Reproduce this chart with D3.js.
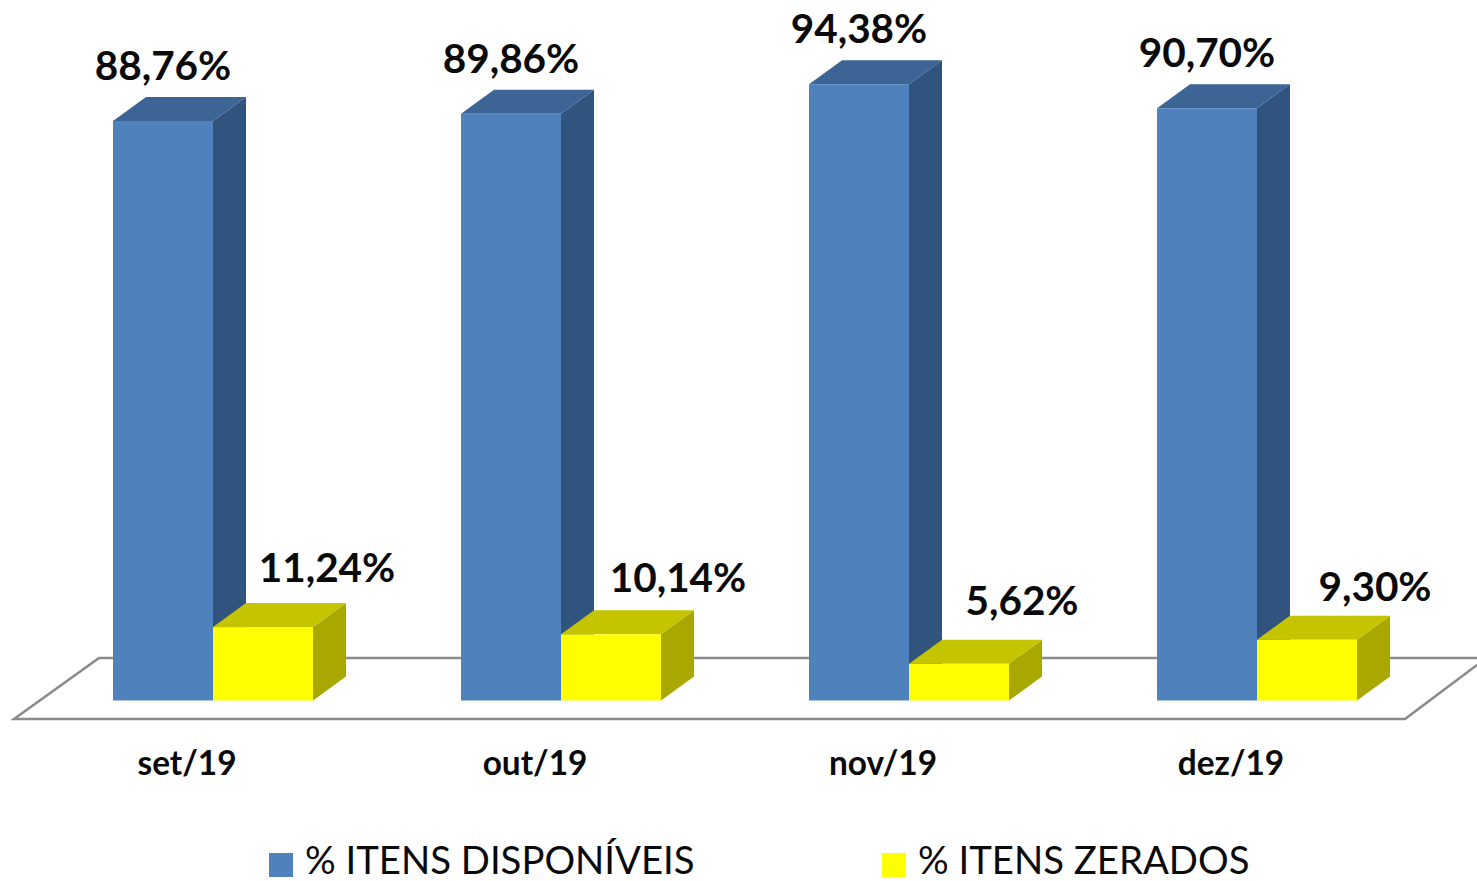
<!DOCTYPE html>
<html>
<head>
<meta charset="utf-8">
<script src="https://cdn.jsdelivr.net/npm/d3@7"></script>
<style>
  html, body { margin: 0; background: #fff; overflow: hidden; }
  text { font-family: Lato, sans-serif; fill: #0a0a0a; }
</style>
</head>
<body>
<div id="svgcontainer"></div>
<script>
var categories = ["set/19", "out/19", "nov/19", "dez/19"];
var seriesNames = ["% ITENS DISPONÍVEIS", "% ITENS ZERADOS"];
var disponiveis = [88.76, 89.86, 94.38, 90.70];
var zerados = [11.24, 10.14, 5.62, 9.30];

var width = 1477, height = 881;
var depthX = 33, depthY = 24;
var front = ["#4f81bd", "#ffff00"];
var topFace = ["#3c6494", "#c4c400"];
var sideFace = ["#30547e", "#a8a800"];

// hand placed label shifts for the yellow bars
var nudgeX = [-1, 2, -2, 3];
var nudgeY = [0, 3, -4, 6];

var svg = d3.select("#svgcontainer")
  .append("svg")
  .attr("width", width)
  .attr("height", height);

var x = d3.scaleBand().domain(categories).range([13, 1405]);
var xInner = d3.scaleBand().domain(seriesNames).range([100, 300]);
var y = d3.scaleLinear().domain([0, 100]).range([700.5, 47.5]);

// floor of the 3d plot
var floorFront = 719, floorBack = 658;
svg.append("path")
  .attr("d", "M1490," + floorBack + "L99," + floorBack + "L14," + floorFront + "L1405," + floorFront + "L1477," + (floorFront - 54))
  .attr("fill", "none")
  .attr("stroke", "#8a8a8a")
  .attr("stroke-width", 2.5);

var rows = [];
categories.forEach(function(c, i){
  rows.push({cat: c, i: i, s: 0, value: disponiveis[i]});
  rows.push({cat: c, i: i, s: 1, value: zerados[i]});
});

var bars = svg.selectAll("g.bar")
  .data(rows)
  .enter().append("g")
  .attr("class", "bar")
  .attr("transform", function(d){ return "translate(" + (x(d.cat) + xInner(seriesNames[d.s])) + ",0)"; });

var w = xInner.bandwidth();

// side
bars.append("path")
  .attr("fill", function(d){ return sideFace[d.s]; })
  .attr("d", function(d){
    var t = y(d.value), b = y(0);
    return "M" + w + "," + t + "L" + (w + depthX) + "," + (t - depthY) + "L" + (w + depthX) + "," + (b - depthY) + "L" + w + "," + b + "Z";
  });
// top
bars.append("path")
  .attr("fill", function(d){ return topFace[d.s]; })
  .attr("d", function(d){
    var t = y(d.value);
    return "M0," + t + "L" + depthX + "," + (t - depthY) + "L" + (w + depthX) + "," + (t - depthY) + "L" + w + "," + t + "Z";
  });
// front
bars.append("rect")
  .attr("width", w)
  .attr("y", function(d){ return y(d.value); })
  .attr("height", function(d){ return y(0) - y(d.value); })
  .attr("fill", function(d){ return front[d.s]; });

// value labels
svg.selectAll("text.value")
  .data(rows)
  .enter().append("text")
  .attr("class", "value")
  .attr("text-anchor", "middle")
  .attr("font-size", 40.5)
  .attr("font-weight", 700)
  .attr("x", function(d){ return x(d.cat) + xInner(seriesNames[d.s]) + w / 2 + (d.s ? 65 + nudgeX[d.i] : 0); })
  .attr("y", function(d){ return y(d.value) - (d.s ? 45 - nudgeY[d.i] : 41); })
  .text(function(d){ return d.value.toFixed(2).replace(".", ",") + "%"; });

// category axis
var axis = d3.axisBottom(x).tickSize(0).tickPadding(0);
var axisG = svg.append("g")
  .attr("transform", "translate(0,751)")
  .call(axis);
axisG.select(".domain").remove();
axisG.selectAll("text")
  .attr("font-size", 33.4)
  .attr("font-weight", 700)
  .style("font-family", "Lato, sans-serif");

// legend
var legendX = [269, 882];
var legend = svg.selectAll("g.legend")
  .data(seriesNames)
  .enter().append("g")
  .attr("class", "legend")
  .attr("transform", function(d, i){ return "translate(" + legendX[i] + ",853)"; });
legend.append("rect")
  .attr("width", 24)
  .attr("height", 24)
  .attr("fill", function(d, i){ return front[i]; });
legend.append("text")
  .attr("x", 36)
  .attr("y", 21)
  .attr("font-size", 38.3)
  .text(function(d){ return d; });
</script>
</body>
</html>
